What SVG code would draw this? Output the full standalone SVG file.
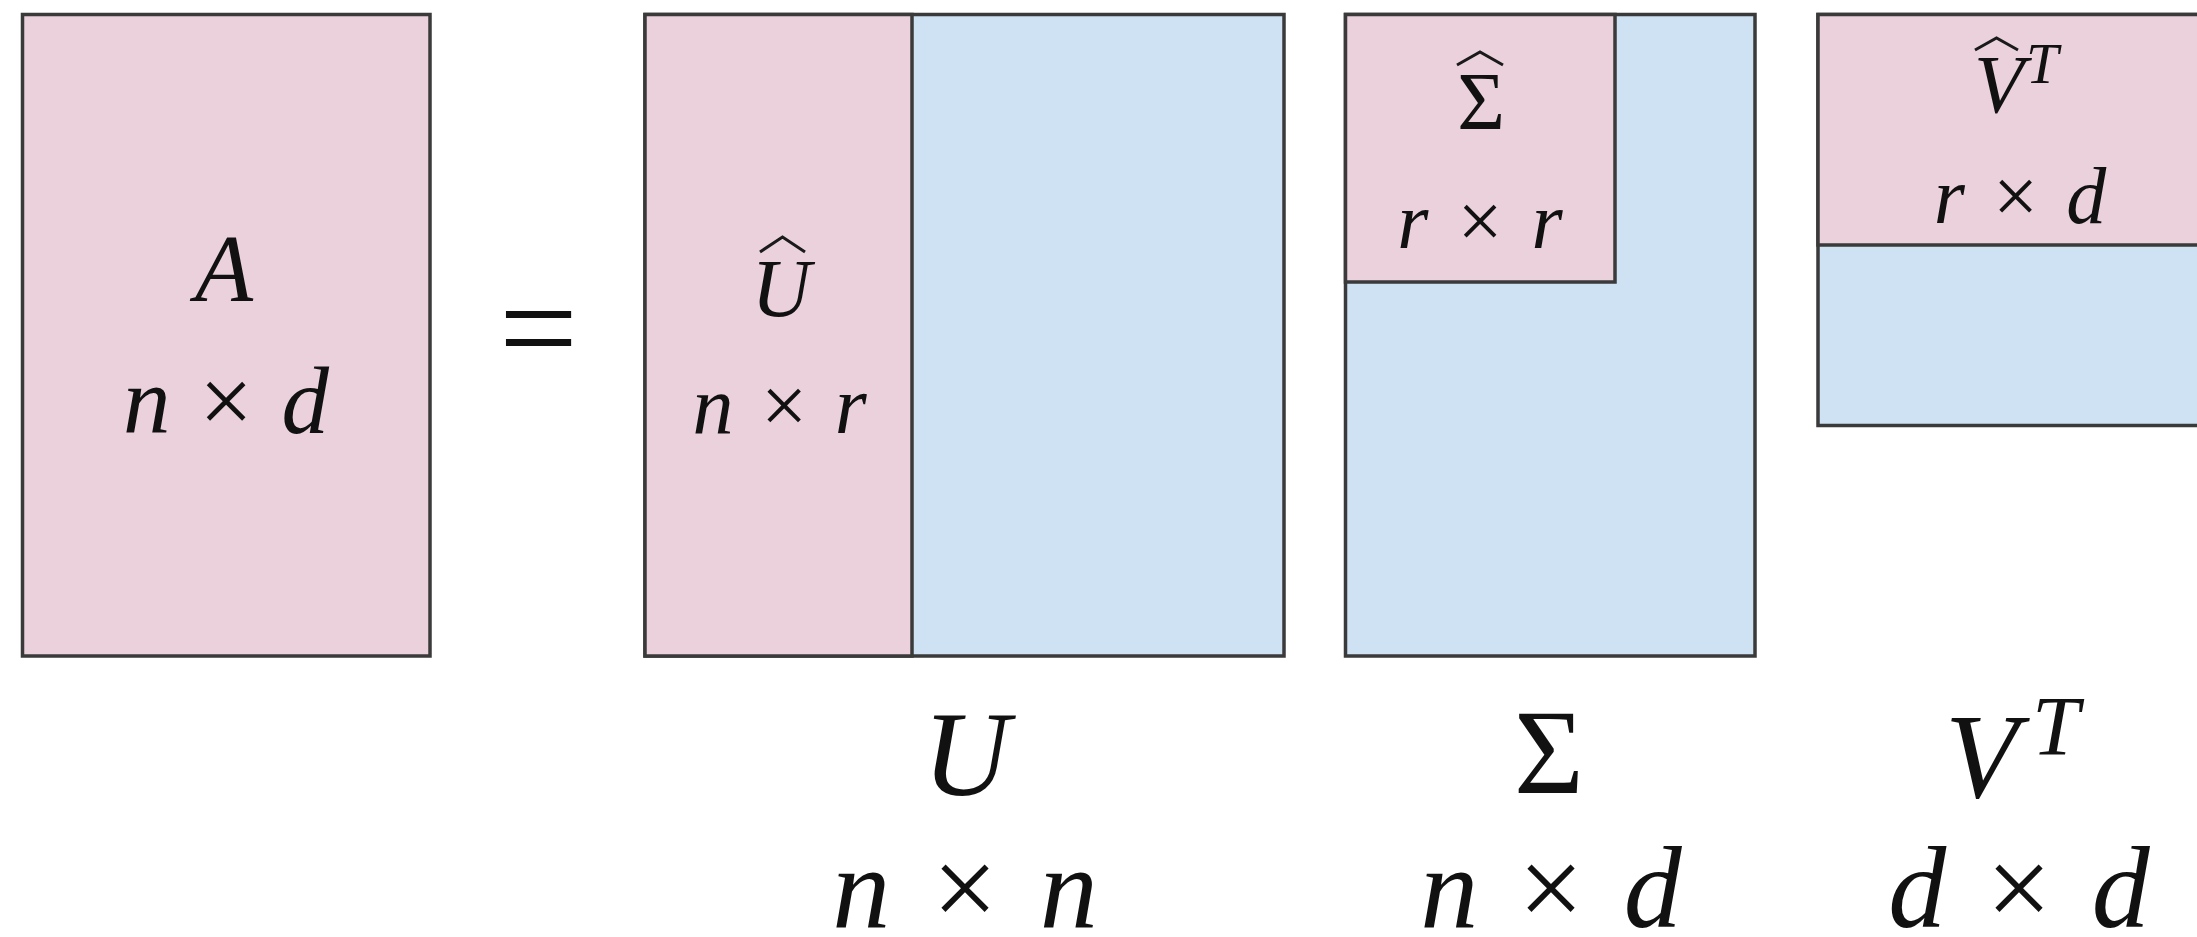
<svg xmlns="http://www.w3.org/2000/svg" width="2197" height="937" viewBox="0 0 2197 937">
<style>
.pink{fill:#EAD1DC;stroke:#3a3a3a;stroke-width:3.5}
.blue{fill:#CFE2F3;stroke:#3a3a3a;stroke-width:3.5}
text{font-family:"Liberation Serif","Times New Roman",serif;fill:#111}
.it{font-style:italic}
.up{font-style:normal}
.hat{fill:none;stroke:#1a1a1a;stroke-width:3;stroke-linejoin:miter;stroke-linecap:butt}
</style>
<rect width="2197" height="937" fill="#ffffff"/>
<g id="matrix-A">
<rect class="pink" x="22.5" y="14.5" width="407.5" height="641.5"/>
<text class="it" x="224" y="301" font-size="95" text-anchor="middle">A</text>
<text class="it" x="226" y="433" font-size="95" text-anchor="middle" word-spacing="5">n <tspan class="up">×</tspan> d</text>
</g>
<g id="equals">
<text class="up" x="538.5" y="375" font-size="140" text-anchor="middle">=</text>
</g>
<g id="matrix-U">
<rect class="blue" x="645" y="14.5" width="639" height="641.5"/>
<rect class="pink" x="645" y="14.5" width="267" height="641.5"/>
<text class="it" x="781" y="316" font-size="82" text-anchor="middle">U</text>
<polyline class="hat" points="760,252 782.5,237 805,252"/>
<text class="it" x="779.5" y="433" font-size="82" text-anchor="middle" word-spacing="7">n <tspan class="up">×</tspan> r</text>
</g>
<g id="matrix-Sigma">
<rect class="blue" x="1345.5" y="14.5" width="409.5" height="641.5"/>
<rect class="pink" x="1345.5" y="14.5" width="269.5" height="267.5"/>
<text class="up" x="1481" y="129" font-size="82" text-anchor="middle">Σ</text>
<polyline class="hat" points="1457,65 1480,52 1503,65"/>
<text class="it" x="1480" y="248" font-size="80" text-anchor="middle" word-spacing="9">r <tspan class="up">×</tspan> r</text>
</g>
<g id="matrix-VT">
<rect class="blue" x="1818" y="14.5" width="420" height="411"/>
<rect class="pink" x="1818" y="14.5" width="420" height="230.5"/>
<text class="it" x="1974" y="112" font-size="82">V<tspan x="2026" y="83" font-size="58">T</tspan></text>
<polyline class="hat" points="1975,50 1996.5,38 2018,50"/>
<text class="it" x="2020" y="223" font-size="80" text-anchor="middle" word-spacing="8">r <tspan class="up">×</tspan> d</text>
</g>
<g id="label-U">
<text class="it" x="966" y="795" font-size="120" text-anchor="middle">U</text>
<text class="it" x="965" y="927" font-size="116" text-anchor="middle" word-spacing="13">n <tspan class="up">×</tspan> n</text>
</g>
<g id="label-Sigma">
<text class="up" x="1549" y="793" font-size="120" text-anchor="middle">Σ</text>
<text class="it" x="1551" y="927" font-size="116" text-anchor="middle" word-spacing="11">n <tspan class="up">×</tspan> d</text>
</g>
<g id="label-VT">
<text class="it" x="1945" y="797" font-size="120">V<tspan x="2032" y="755" font-size="85">T</tspan></text>
<text class="it" x="2019" y="927" font-size="116" text-anchor="middle" word-spacing="11">d <tspan class="up">×</tspan> d</text>
</g>
<g id="connectors"></g>
</svg>
